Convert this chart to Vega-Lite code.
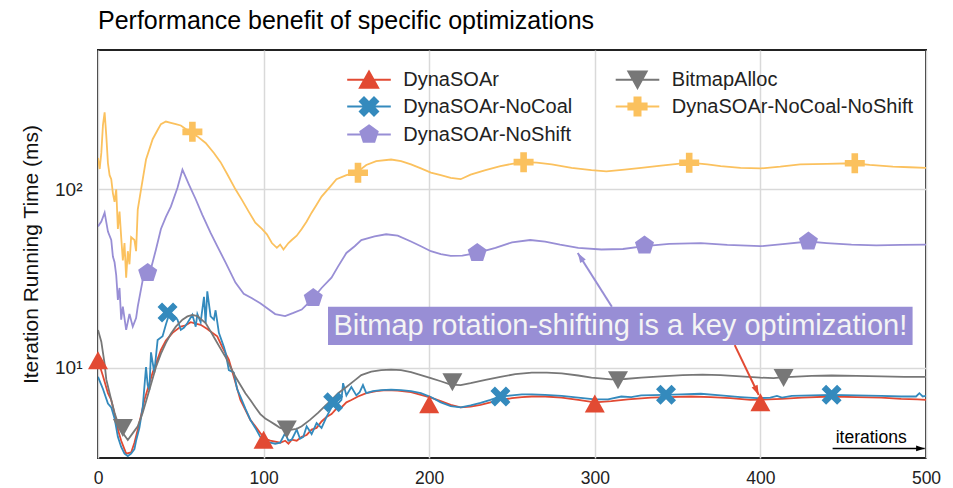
{
  "$schema": "https://vega.github.io/schema/vega-lite/v6.json",
  "width": 828,
  "height": 408,
  "autosize": {"type": "none"},
  "padding": {"left": 98, "top": 50, "right": 27, "bottom": 30},
  "background": "white",
  "title": {"text": "Performance benefit of specific optimizations", "anchor": "start", "frame": "group", "fontSize": 25, "fontWeight": "normal", "font": "Liberation Sans", "color": "#000", "offset": 16},
  "config": {
    "font": "Liberation Sans",
    "view": {"stroke": "#222", "strokeWidth": 2},
    "axis": {"labelFont": "Liberation Sans", "titleFont": "Liberation Sans", "labelColor": "#222", "titleColor": "#111", "domain": false, "ticks": false, "gridColor": "#d9d9d9", "gridWidth": 1.5}
  },
  "datasets": {
    "lines": [
      {"series":"DynaSOAr","x":0,"y":11.0},{"series":"DynaSOAr","x":3,"y":9.0},{"series":"DynaSOAr","x":6,"y":7.2},{"series":"DynaSOAr","x":8,"y":6.6},{"series":"DynaSOAr","x":10,"y":5.5},{"series":"DynaSOAr","x":12,"y":4.5},{"series":"DynaSOAr","x":14,"y":3.9},{"series":"DynaSOAr","x":17,"y":3.3},{"series":"DynaSOAr","x":20,"y":3.35},{"series":"DynaSOAr","x":22,"y":3.8},{"series":"DynaSOAr","x":24,"y":4.5},{"series":"DynaSOAr","x":26,"y":5.4},{"series":"DynaSOAr","x":28,"y":6.6},{"series":"DynaSOAr","x":30,"y":7.6},{"series":"DynaSOAr","x":33,"y":9.4},{"series":"DynaSOAr","x":36,"y":11.2},{"series":"DynaSOAr","x":38,"y":12.6},{"series":"DynaSOAr","x":41,"y":14.2},{"series":"DynaSOAr","x":45,"y":15.7},{"series":"DynaSOAr","x":50,"y":17.0},{"series":"DynaSOAr","x":53,"y":17.3},{"series":"DynaSOAr","x":56,"y":18.0},{"series":"DynaSOAr","x":59,"y":17.7},{"series":"DynaSOAr","x":62,"y":17.4},{"series":"DynaSOAr","x":66,"y":16.5},{"series":"DynaSOAr","x":69,"y":15.7},{"series":"DynaSOAr","x":72,"y":15.0},{"series":"DynaSOAr","x":75,"y":13.1},{"series":"DynaSOAr","x":79,"y":11.1},{"series":"DynaSOAr","x":82,"y":8.9},{"series":"DynaSOAr","x":86,"y":6.6},{"series":"DynaSOAr","x":89,"y":5.8},{"series":"DynaSOAr","x":92,"y":5.1},{"series":"DynaSOAr","x":95,"y":4.7},{"series":"DynaSOAr","x":98,"y":4.3},{"series":"DynaSOAr","x":101,"y":4.0},{"series":"DynaSOAr","x":104,"y":3.9},{"series":"DynaSOAr","x":107,"y":3.85},{"series":"DynaSOAr","x":110,"y":3.8},{"series":"DynaSOAr","x":113,"y":3.9},{"series":"DynaSOAr","x":115,"y":3.75},{"series":"DynaSOAr","x":117,"y":3.95},{"series":"DynaSOAr","x":120,"y":3.9},{"series":"DynaSOAr","x":123,"y":4.1},{"series":"DynaSOAr","x":126,"y":4.2},{"series":"DynaSOAr","x":129,"y":4.5},{"series":"DynaSOAr","x":132,"y":4.6},{"series":"DynaSOAr","x":135,"y":5.0},{"series":"DynaSOAr","x":138,"y":5.3},{"series":"DynaSOAr","x":141,"y":5.5},{"series":"DynaSOAr","x":144,"y":5.9},{"series":"DynaSOAr","x":147,"y":6.0},{"series":"DynaSOAr","x":150,"y":6.4},{"series":"DynaSOAr","x":153,"y":6.6},{"series":"DynaSOAr","x":157,"y":6.9},{"series":"DynaSOAr","x":162,"y":7.2},{"series":"DynaSOAr","x":168,"y":7.4},{"series":"DynaSOAr","x":174,"y":7.5},{"series":"DynaSOAr","x":181,"y":7.45},{"series":"DynaSOAr","x":189,"y":7.3},{"series":"DynaSOAr","x":195,"y":7.05},{"series":"DynaSOAr","x":201,"y":6.8},{"series":"DynaSOAr","x":207,"y":6.5},{"series":"DynaSOAr","x":213,"y":6.2},{"series":"DynaSOAr","x":219,"y":6.0},{"series":"DynaSOAr","x":225,"y":6.05},{"series":"DynaSOAr","x":231,"y":6.2},{"series":"DynaSOAr","x":237,"y":6.4},{"series":"DynaSOAr","x":243,"y":6.6},{"series":"DynaSOAr","x":250,"y":6.75},{"series":"DynaSOAr","x":256,"y":6.85},{"series":"DynaSOAr","x":262,"y":6.9},{"series":"DynaSOAr","x":270,"y":6.9},{"series":"DynaSOAr","x":280,"y":6.8},{"series":"DynaSOAr","x":290,"y":6.6},{"series":"DynaSOAr","x":300,"y":6.4},{"series":"DynaSOAr","x":310,"y":6.5},{"series":"DynaSOAr","x":320,"y":6.65},{"series":"DynaSOAr","x":334,"y":6.8},{"series":"DynaSOAr","x":345,"y":6.85},{"series":"DynaSOAr","x":358,"y":6.9},{"series":"DynaSOAr","x":370,"y":6.85},{"series":"DynaSOAr","x":382,"y":6.75},{"series":"DynaSOAr","x":394,"y":6.6},{"series":"DynaSOAr","x":405,"y":6.65},{"series":"DynaSOAr","x":413,"y":6.7},{"series":"DynaSOAr","x":425,"y":6.8},{"series":"DynaSOAr","x":443,"y":6.9},{"series":"DynaSOAr","x":458,"y":6.85},{"series":"DynaSOAr","x":473,"y":6.8},{"series":"DynaSOAr","x":485,"y":6.7},{"series":"DynaSOAr","x":495,"y":6.65},{"series":"DynaSOAr","x":500,"y":6.6},

      {"series":"DynaSOAr-NoCoal","x":0,"y":8.9},{"series":"DynaSOAr-NoCoal","x":3,"y":7.6},{"series":"DynaSOAr-NoCoal","x":6,"y":6.3},{"series":"DynaSOAr-NoCoal","x":8,"y":6.0},{"series":"DynaSOAr-NoCoal","x":10,"y":5.2},{"series":"DynaSOAr-NoCoal","x":12,"y":4.1},{"series":"DynaSOAr-NoCoal","x":14,"y":3.6},{"series":"DynaSOAr-NoCoal","x":16,"y":3.3},{"series":"DynaSOAr-NoCoal","x":18,"y":3.2},{"series":"DynaSOAr-NoCoal","x":20,"y":3.3},{"series":"DynaSOAr-NoCoal","x":22,"y":3.5},{"series":"DynaSOAr-NoCoal","x":23,"y":3.9},{"series":"DynaSOAr-NoCoal","x":25,"y":4.6},{"series":"DynaSOAr-NoCoal","x":27,"y":6.0},{"series":"DynaSOAr-NoCoal","x":29,"y":10.1},{"series":"DynaSOAr-NoCoal","x":30,"y":8.0},{"series":"DynaSOAr-NoCoal","x":31,"y":7.5},{"series":"DynaSOAr-NoCoal","x":32,"y":12.2},{"series":"DynaSOAr-NoCoal","x":34,"y":9.4},{"series":"DynaSOAr-NoCoal","x":36,"y":14.3},{"series":"DynaSOAr-NoCoal","x":39,"y":15.0},{"series":"DynaSOAr-NoCoal","x":41,"y":17.5},{"series":"DynaSOAr-NoCoal","x":43,"y":20.0},{"series":"DynaSOAr-NoCoal","x":46,"y":19.5},{"series":"DynaSOAr-NoCoal","x":48,"y":18.6},{"series":"DynaSOAr-NoCoal","x":50,"y":16.3},{"series":"DynaSOAr-NoCoal","x":52,"y":16.8},{"series":"DynaSOAr-NoCoal","x":54,"y":17.8},{"series":"DynaSOAr-NoCoal","x":57,"y":19.8},{"series":"DynaSOAr-NoCoal","x":59,"y":17.0},{"series":"DynaSOAr-NoCoal","x":60,"y":20.0},{"series":"DynaSOAr-NoCoal","x":62,"y":18.0},{"series":"DynaSOAr-NoCoal","x":64,"y":25.0},{"series":"DynaSOAr-NoCoal","x":65,"y":17.8},{"series":"DynaSOAr-NoCoal","x":66,"y":26.8},{"series":"DynaSOAr-NoCoal","x":68,"y":19.4},{"series":"DynaSOAr-NoCoal","x":70,"y":18.6},{"series":"DynaSOAr-NoCoal","x":71,"y":21.0},{"series":"DynaSOAr-NoCoal","x":73,"y":15.7},{"series":"DynaSOAr-NoCoal","x":76,"y":13.1},{"series":"DynaSOAr-NoCoal","x":77,"y":12.2},{"series":"DynaSOAr-NoCoal","x":79,"y":9.7},{"series":"DynaSOAr-NoCoal","x":82,"y":9.4},{"series":"DynaSOAr-NoCoal","x":84,"y":7.6},{"series":"DynaSOAr-NoCoal","x":86,"y":6.9},{"series":"DynaSOAr-NoCoal","x":89,"y":5.9},{"series":"DynaSOAr-NoCoal","x":92,"y":5.1},{"series":"DynaSOAr-NoCoal","x":95,"y":4.6},{"series":"DynaSOAr-NoCoal","x":98,"y":4.1},{"series":"DynaSOAr-NoCoal","x":101,"y":3.9},{"series":"DynaSOAr-NoCoal","x":104,"y":3.8},{"series":"DynaSOAr-NoCoal","x":107,"y":3.75},{"series":"DynaSOAr-NoCoal","x":110,"y":3.8},{"series":"DynaSOAr-NoCoal","x":113,"y":4.3},{"series":"DynaSOAr-NoCoal","x":115,"y":3.9},{"series":"DynaSOAr-NoCoal","x":117,"y":3.95},{"series":"DynaSOAr-NoCoal","x":120,"y":4.5},{"series":"DynaSOAr-NoCoal","x":122,"y":4.0},{"series":"DynaSOAr-NoCoal","x":124,"y":4.1},{"series":"DynaSOAr-NoCoal","x":126,"y":4.7},{"series":"DynaSOAr-NoCoal","x":129,"y":4.25},{"series":"DynaSOAr-NoCoal","x":132,"y":4.9},{"series":"DynaSOAr-NoCoal","x":135,"y":4.6},{"series":"DynaSOAr-NoCoal","x":138,"y":5.3},{"series":"DynaSOAr-NoCoal","x":141,"y":6.0},{"series":"DynaSOAr-NoCoal","x":143,"y":6.2},{"series":"DynaSOAr-NoCoal","x":145,"y":6.3},{"series":"DynaSOAr-NoCoal","x":147,"y":6.6},{"series":"DynaSOAr-NoCoal","x":148,"y":8.2},{"series":"DynaSOAr-NoCoal","x":150,"y":7.0},{"series":"DynaSOAr-NoCoal","x":153,"y":7.8},{"series":"DynaSOAr-NoCoal","x":156,"y":7.0},{"series":"DynaSOAr-NoCoal","x":158,"y":7.3},{"series":"DynaSOAr-NoCoal","x":160,"y":8.0},{"series":"DynaSOAr-NoCoal","x":162,"y":7.2},{"series":"DynaSOAr-NoCoal","x":166,"y":7.4},{"series":"DynaSOAr-NoCoal","x":171,"y":7.5},{"series":"DynaSOAr-NoCoal","x":177,"y":7.55},{"series":"DynaSOAr-NoCoal","x":183,"y":7.5},{"series":"DynaSOAr-NoCoal","x":189,"y":7.4},{"series":"DynaSOAr-NoCoal","x":195,"y":7.2},{"series":"DynaSOAr-NoCoal","x":201,"y":6.85},{"series":"DynaSOAr-NoCoal","x":207,"y":6.4},{"series":"DynaSOAr-NoCoal","x":213,"y":6.1},{"series":"DynaSOAr-NoCoal","x":219,"y":6.0},{"series":"DynaSOAr-NoCoal","x":225,"y":6.15},{"series":"DynaSOAr-NoCoal","x":231,"y":6.35},{"series":"DynaSOAr-NoCoal","x":237,"y":6.6},{"series":"DynaSOAr-NoCoal","x":243,"y":6.9},{"series":"DynaSOAr-NoCoal","x":250,"y":7.0},{"series":"DynaSOAr-NoCoal","x":256,"y":7.1},{"series":"DynaSOAr-NoCoal","x":262,"y":7.1},{"series":"DynaSOAr-NoCoal","x":270,"y":7.05},{"series":"DynaSOAr-NoCoal","x":280,"y":6.95},{"series":"DynaSOAr-NoCoal","x":290,"y":6.8},{"series":"DynaSOAr-NoCoal","x":300,"y":6.65},{"series":"DynaSOAr-NoCoal","x":308,"y":6.65},{"series":"DynaSOAr-NoCoal","x":316,"y":6.9},{"series":"DynaSOAr-NoCoal","x":322,"y":6.85},{"series":"DynaSOAr-NoCoal","x":328,"y":7.0},{"series":"DynaSOAr-NoCoal","x":342,"y":7.05},{"series":"DynaSOAr-NoCoal","x":352,"y":7.1},{"series":"DynaSOAr-NoCoal","x":364,"y":7.15},{"series":"DynaSOAr-NoCoal","x":376,"y":7.0},{"series":"DynaSOAr-NoCoal","x":388,"y":6.85},{"series":"DynaSOAr-NoCoal","x":398,"y":6.75},{"series":"DynaSOAr-NoCoal","x":406,"y":6.8},{"series":"DynaSOAr-NoCoal","x":410,"y":6.95},{"series":"DynaSOAr-NoCoal","x":413,"y":6.8},{"series":"DynaSOAr-NoCoal","x":419,"y":6.95},{"series":"DynaSOAr-NoCoal","x":431,"y":7.0},{"series":"DynaSOAr-NoCoal","x":443,"y":7.05},{"series":"DynaSOAr-NoCoal","x":458,"y":7.0},{"series":"DynaSOAr-NoCoal","x":473,"y":6.95},{"series":"DynaSOAr-NoCoal","x":485,"y":6.9},{"series":"DynaSOAr-NoCoal","x":494,"y":6.9},{"series":"DynaSOAr-NoCoal","x":496,"y":7.2},{"series":"DynaSOAr-NoCoal","x":498,"y":6.9},{"series":"DynaSOAr-NoCoal","x":500,"y":6.95},

      {"series":"DynaSOAr-NoShift","x":0,"y":62},{"series":"DynaSOAr-NoShift","x":2,"y":66},{"series":"DynaSOAr-NoShift","x":4,"y":74},{"series":"DynaSOAr-NoShift","x":6,"y":58},{"series":"DynaSOAr-NoShift","x":8,"y":52},{"series":"DynaSOAr-NoShift","x":9,"y":42},{"series":"DynaSOAr-NoShift","x":10,"y":39},{"series":"DynaSOAr-NoShift","x":11,"y":33},{"series":"DynaSOAr-NoShift","x":12,"y":24},{"series":"DynaSOAr-NoShift","x":13,"y":28},{"series":"DynaSOAr-NoShift","x":14,"y":18.6},{"series":"DynaSOAr-NoShift","x":15,"y":22},{"series":"DynaSOAr-NoShift","x":17,"y":16.3},{"series":"DynaSOAr-NoShift","x":19,"y":20},{"series":"DynaSOAr-NoShift","x":21,"y":17},{"series":"DynaSOAr-NoShift","x":23,"y":19},{"series":"DynaSOAr-NoShift","x":24,"y":22},{"series":"DynaSOAr-NoShift","x":27,"y":31},{"series":"DynaSOAr-NoShift","x":30,"y":34},{"series":"DynaSOAr-NoShift","x":32,"y":36},{"series":"DynaSOAr-NoShift","x":35,"y":46},{"series":"DynaSOAr-NoShift","x":38,"y":60},{"series":"DynaSOAr-NoShift","x":41,"y":70},{"series":"DynaSOAr-NoShift","x":44,"y":80},{"series":"DynaSOAr-NoShift","x":48,"y":102},{"series":"DynaSOAr-NoShift","x":51,"y":129},{"series":"DynaSOAr-NoShift","x":55,"y":106},{"series":"DynaSOAr-NoShift","x":59,"y":88},{"series":"DynaSOAr-NoShift","x":63,"y":72},{"series":"DynaSOAr-NoShift","x":68,"y":57},{"series":"DynaSOAr-NoShift","x":72,"y":48},{"series":"DynaSOAr-NoShift","x":77,"y":39},{"series":"DynaSOAr-NoShift","x":83,"y":30},{"series":"DynaSOAr-NoShift","x":88,"y":26},{"series":"DynaSOAr-NoShift","x":93,"y":24.5},{"series":"DynaSOAr-NoShift","x":98,"y":23},{"series":"DynaSOAr-NoShift","x":103,"y":21.3},{"series":"DynaSOAr-NoShift","x":107,"y":20},{"series":"DynaSOAr-NoShift","x":113,"y":19.5},{"series":"DynaSOAr-NoShift","x":118,"y":20.3},{"series":"DynaSOAr-NoShift","x":123,"y":21.2},{"series":"DynaSOAr-NoShift","x":127,"y":23},{"series":"DynaSOAr-NoShift","x":130,"y":24.6},{"series":"DynaSOAr-NoShift","x":135,"y":28},{"series":"DynaSOAr-NoShift","x":141,"y":32},{"series":"DynaSOAr-NoShift","x":145,"y":37},{"series":"DynaSOAr-NoShift","x":150,"y":44},{"series":"DynaSOAr-NoShift","x":155,"y":48},{"series":"DynaSOAr-NoShift","x":159,"y":52},{"series":"DynaSOAr-NoShift","x":167,"y":54.5},{"series":"DynaSOAr-NoShift","x":174,"y":56},{"series":"DynaSOAr-NoShift","x":181,"y":55},{"series":"DynaSOAr-NoShift","x":189,"y":51},{"series":"DynaSOAr-NoShift","x":195,"y":48},{"series":"DynaSOAr-NoShift","x":201,"y":45},{"series":"DynaSOAr-NoShift","x":207,"y":43.3},{"series":"DynaSOAr-NoShift","x":213,"y":42.4},{"series":"DynaSOAr-NoShift","x":220,"y":42.5},{"series":"DynaSOAr-NoShift","x":229,"y":44},{"series":"DynaSOAr-NoShift","x":240,"y":47},{"series":"DynaSOAr-NoShift","x":250,"y":50.5},{"series":"DynaSOAr-NoShift","x":261,"y":52},{"series":"DynaSOAr-NoShift","x":270,"y":51},{"series":"DynaSOAr-NoShift","x":279,"y":49},{"series":"DynaSOAr-NoShift","x":290,"y":47},{"series":"DynaSOAr-NoShift","x":304,"y":46},{"series":"DynaSOAr-NoShift","x":317,"y":46.3},{"series":"DynaSOAr-NoShift","x":330,"y":48},{"series":"DynaSOAr-NoShift","x":345,"y":49.5},{"series":"DynaSOAr-NoShift","x":364,"y":50},{"series":"DynaSOAr-NoShift","x":380,"y":48.8},{"series":"DynaSOAr-NoShift","x":400,"y":48},{"series":"DynaSOAr-NoShift","x":415,"y":49.5},{"series":"DynaSOAr-NoShift","x":429,"y":51},{"series":"DynaSOAr-NoShift","x":440,"y":50},{"series":"DynaSOAr-NoShift","x":455,"y":49},{"series":"DynaSOAr-NoShift","x":470,"y":48.5},{"series":"DynaSOAr-NoShift","x":485,"y":48.8},{"series":"DynaSOAr-NoShift","x":500,"y":49},

      {"series":"BitmapAlloc","x":0,"y":16.3},{"series":"BitmapAlloc","x":2,"y":14.0},{"series":"BitmapAlloc","x":4,"y":10.5},{"series":"BitmapAlloc","x":5,"y":8.6},{"series":"BitmapAlloc","x":8,"y":6.6},{"series":"BitmapAlloc","x":10,"y":5.6},{"series":"BitmapAlloc","x":12,"y":4.9},{"series":"BitmapAlloc","x":15,"y":4.3},{"series":"BitmapAlloc","x":18,"y":3.94},{"series":"BitmapAlloc","x":21,"y":4.3},{"series":"BitmapAlloc","x":24,"y":4.7},{"series":"BitmapAlloc","x":27,"y":5.6},{"series":"BitmapAlloc","x":31,"y":7.5},{"series":"BitmapAlloc","x":35,"y":10.1},{"series":"BitmapAlloc","x":38,"y":12.0},{"series":"BitmapAlloc","x":41,"y":13.8},{"series":"BitmapAlloc","x":44,"y":15.5},{"series":"BitmapAlloc","x":47,"y":17.0},{"series":"BitmapAlloc","x":51,"y":18.6},{"series":"BitmapAlloc","x":54,"y":19.4},{"series":"BitmapAlloc","x":57,"y":19.8},{"series":"BitmapAlloc","x":60,"y":19.5},{"series":"BitmapAlloc","x":65,"y":17.8},{"series":"BitmapAlloc","x":68,"y":16.0},{"series":"BitmapAlloc","x":71,"y":14.3},{"series":"BitmapAlloc","x":74,"y":12.8},{"series":"BitmapAlloc","x":77,"y":11.5},{"series":"BitmapAlloc","x":80,"y":10.1},{"series":"BitmapAlloc","x":83,"y":8.9},{"series":"BitmapAlloc","x":86,"y":8.0},{"series":"BitmapAlloc","x":89,"y":7.2},{"series":"BitmapAlloc","x":92,"y":6.6},{"series":"BitmapAlloc","x":95,"y":6.0},{"series":"BitmapAlloc","x":98,"y":5.5},{"series":"BitmapAlloc","x":101,"y":5.2},{"series":"BitmapAlloc","x":104,"y":5.0},{"series":"BitmapAlloc","x":107,"y":4.8},{"series":"BitmapAlloc","x":110,"y":4.6},{"series":"BitmapAlloc","x":114,"y":4.5},{"series":"BitmapAlloc","x":117,"y":4.5},{"series":"BitmapAlloc","x":120,"y":4.55},{"series":"BitmapAlloc","x":123,"y":4.7},{"series":"BitmapAlloc","x":128,"y":5.1},{"series":"BitmapAlloc","x":133,"y":5.6},{"series":"BitmapAlloc","x":137,"y":6.1},{"series":"BitmapAlloc","x":141,"y":6.6},{"series":"BitmapAlloc","x":145,"y":7.2},{"series":"BitmapAlloc","x":150,"y":7.8},{"series":"BitmapAlloc","x":155,"y":8.5},{"series":"BitmapAlloc","x":159,"y":9.1},{"series":"BitmapAlloc","x":165,"y":9.5},{"series":"BitmapAlloc","x":171,"y":9.7},{"series":"BitmapAlloc","x":177,"y":9.75},{"series":"BitmapAlloc","x":183,"y":9.7},{"series":"BitmapAlloc","x":189,"y":9.45},{"series":"BitmapAlloc","x":195,"y":9.1},{"series":"BitmapAlloc","x":201,"y":8.75},{"series":"BitmapAlloc","x":207,"y":8.4},{"series":"BitmapAlloc","x":213,"y":8.05},{"series":"BitmapAlloc","x":219,"y":8.0},{"series":"BitmapAlloc","x":225,"y":8.2},{"series":"BitmapAlloc","x":234,"y":8.55},{"series":"BitmapAlloc","x":243,"y":8.9},{"series":"BitmapAlloc","x":252,"y":9.2},{"series":"BitmapAlloc","x":262,"y":9.4},{"series":"BitmapAlloc","x":271,"y":9.4},{"series":"BitmapAlloc","x":280,"y":9.3},{"series":"BitmapAlloc","x":290,"y":9.05},{"series":"BitmapAlloc","x":298,"y":8.8},{"series":"BitmapAlloc","x":310,"y":8.6},{"series":"BitmapAlloc","x":318,"y":8.65},{"series":"BitmapAlloc","x":328,"y":8.8},{"series":"BitmapAlloc","x":340,"y":8.95},{"series":"BitmapAlloc","x":353,"y":9.1},{"series":"BitmapAlloc","x":365,"y":9.15},{"series":"BitmapAlloc","x":376,"y":9.1},{"series":"BitmapAlloc","x":388,"y":8.95},{"series":"BitmapAlloc","x":400,"y":8.8},{"series":"BitmapAlloc","x":408,"y":8.75},{"series":"BitmapAlloc","x":414,"y":8.85},{"series":"BitmapAlloc","x":419,"y":8.9},{"series":"BitmapAlloc","x":431,"y":9.0},{"series":"BitmapAlloc","x":443,"y":9.05},{"series":"BitmapAlloc","x":458,"y":9.0},{"series":"BitmapAlloc","x":473,"y":8.95},{"series":"BitmapAlloc","x":487,"y":8.9},{"series":"BitmapAlloc","x":500,"y":8.9},

      {"series":"DynaSOAr-NoCoal-NoShift","x":0,"y":150},{"series":"DynaSOAr-NoCoal-NoShift","x":1,"y":130},{"series":"DynaSOAr-NoCoal-NoShift","x":2,"y":160},{"series":"DynaSOAr-NoCoal-NoShift","x":3,"y":230},{"series":"DynaSOAr-NoCoal-NoShift","x":4,"y":270},{"series":"DynaSOAr-NoCoal-NoShift","x":5,"y":200},{"series":"DynaSOAr-NoCoal-NoShift","x":6,"y":140},{"series":"DynaSOAr-NoCoal-NoShift","x":7,"y":120},{"series":"DynaSOAr-NoCoal-NoShift","x":8,"y":114},{"series":"DynaSOAr-NoCoal-NoShift","x":9,"y":95},{"series":"DynaSOAr-NoCoal-NoShift","x":10,"y":85},{"series":"DynaSOAr-NoCoal-NoShift","x":11,"y":100},{"series":"DynaSOAr-NoCoal-NoShift","x":12,"y":60},{"series":"DynaSOAr-NoCoal-NoShift","x":13,"y":75},{"series":"DynaSOAr-NoCoal-NoShift","x":14,"y":54},{"series":"DynaSOAr-NoCoal-NoShift","x":15,"y":40},{"series":"DynaSOAr-NoCoal-NoShift","x":16,"y":50},{"series":"DynaSOAr-NoCoal-NoShift","x":17,"y":32},{"series":"DynaSOAr-NoCoal-NoShift","x":18,"y":45},{"series":"DynaSOAr-NoCoal-NoShift","x":19,"y":38},{"series":"DynaSOAr-NoCoal-NoShift","x":20,"y":54},{"series":"DynaSOAr-NoCoal-NoShift","x":22,"y":52},{"series":"DynaSOAr-NoCoal-NoShift","x":23,"y":45},{"series":"DynaSOAr-NoCoal-NoShift","x":24,"y":77},{"series":"DynaSOAr-NoCoal-NoShift","x":26,"y":100},{"series":"DynaSOAr-NoCoal-NoShift","x":29,"y":147},{"series":"DynaSOAr-NoCoal-NoShift","x":33,"y":191},{"series":"DynaSOAr-NoCoal-NoShift","x":36,"y":215},{"series":"DynaSOAr-NoCoal-NoShift","x":38,"y":232},{"series":"DynaSOAr-NoCoal-NoShift","x":41,"y":240},{"series":"DynaSOAr-NoCoal-NoShift","x":44,"y":236},{"series":"DynaSOAr-NoCoal-NoShift","x":47,"y":232},{"series":"DynaSOAr-NoCoal-NoShift","x":50,"y":228},{"series":"DynaSOAr-NoCoal-NoShift","x":53,"y":218},{"series":"DynaSOAr-NoCoal-NoShift","x":56,"y":209},{"series":"DynaSOAr-NoCoal-NoShift","x":60,"y":198},{"series":"DynaSOAr-NoCoal-NoShift","x":65,"y":182},{"series":"DynaSOAr-NoCoal-NoShift","x":70,"y":160},{"series":"DynaSOAr-NoCoal-NoShift","x":74,"y":142},{"series":"DynaSOAr-NoCoal-NoShift","x":78,"y":122},{"series":"DynaSOAr-NoCoal-NoShift","x":83,"y":100},{"series":"DynaSOAr-NoCoal-NoShift","x":87,"y":87},{"series":"DynaSOAr-NoCoal-NoShift","x":91,"y":75},{"series":"DynaSOAr-NoCoal-NoShift","x":95,"y":65},{"series":"DynaSOAr-NoCoal-NoShift","x":99,"y":60},{"series":"DynaSOAr-NoCoal-NoShift","x":102,"y":56},{"series":"DynaSOAr-NoCoal-NoShift","x":105,"y":50},{"series":"DynaSOAr-NoCoal-NoShift","x":108,"y":47},{"series":"DynaSOAr-NoCoal-NoShift","x":110,"y":49},{"series":"DynaSOAr-NoCoal-NoShift","x":112,"y":46},{"series":"DynaSOAr-NoCoal-NoShift","x":115,"y":50},{"series":"DynaSOAr-NoCoal-NoShift","x":117,"y":52},{"series":"DynaSOAr-NoCoal-NoShift","x":120,"y":55},{"series":"DynaSOAr-NoCoal-NoShift","x":123,"y":60},{"series":"DynaSOAr-NoCoal-NoShift","x":126,"y":66},{"series":"DynaSOAr-NoCoal-NoShift","x":129,"y":74},{"series":"DynaSOAr-NoCoal-NoShift","x":132,"y":82},{"series":"DynaSOAr-NoCoal-NoShift","x":135,"y":91},{"series":"DynaSOAr-NoCoal-NoShift","x":140,"y":103},{"series":"DynaSOAr-NoCoal-NoShift","x":144,"y":114},{"series":"DynaSOAr-NoCoal-NoShift","x":150,"y":120},{"series":"DynaSOAr-NoCoal-NoShift","x":156,"y":124},{"series":"DynaSOAr-NoCoal-NoShift","x":162,"y":137},{"series":"DynaSOAr-NoCoal-NoShift","x":168,"y":144},{"series":"DynaSOAr-NoCoal-NoShift","x":177,"y":147},{"series":"DynaSOAr-NoCoal-NoShift","x":183,"y":144},{"series":"DynaSOAr-NoCoal-NoShift","x":189,"y":138},{"series":"DynaSOAr-NoCoal-NoShift","x":195,"y":131},{"series":"DynaSOAr-NoCoal-NoShift","x":201,"y":124},{"series":"DynaSOAr-NoCoal-NoShift","x":207,"y":120},{"series":"DynaSOAr-NoCoal-NoShift","x":213,"y":116},{"series":"DynaSOAr-NoCoal-NoShift","x":219,"y":114},{"series":"DynaSOAr-NoCoal-NoShift","x":225,"y":121},{"series":"DynaSOAr-NoCoal-NoShift","x":234,"y":128},{"series":"DynaSOAr-NoCoal-NoShift","x":243,"y":135},{"series":"DynaSOAr-NoCoal-NoShift","x":250,"y":139},{"series":"DynaSOAr-NoCoal-NoShift","x":257,"y":142},{"series":"DynaSOAr-NoCoal-NoShift","x":265,"y":141},{"series":"DynaSOAr-NoCoal-NoShift","x":274,"y":138},{"series":"DynaSOAr-NoCoal-NoShift","x":286,"y":132},{"series":"DynaSOAr-NoCoal-NoShift","x":298,"y":128},{"series":"DynaSOAr-NoCoal-NoShift","x":307,"y":126},{"series":"DynaSOAr-NoCoal-NoShift","x":318,"y":129},{"series":"DynaSOAr-NoCoal-NoShift","x":328,"y":132},{"series":"DynaSOAr-NoCoal-NoShift","x":340,"y":136},{"series":"DynaSOAr-NoCoal-NoShift","x":357,"y":141},{"series":"DynaSOAr-NoCoal-NoShift","x":368,"y":138},{"series":"DynaSOAr-NoCoal-NoShift","x":376,"y":135},{"series":"DynaSOAr-NoCoal-NoShift","x":388,"y":132},{"series":"DynaSOAr-NoCoal-NoShift","x":400,"y":131},{"series":"DynaSOAr-NoCoal-NoShift","x":412,"y":134},{"series":"DynaSOAr-NoCoal-NoShift","x":424,"y":138},{"series":"DynaSOAr-NoCoal-NoShift","x":440,"y":139},{"series":"DynaSOAr-NoCoal-NoShift","x":456,"y":140},{"series":"DynaSOAr-NoCoal-NoShift","x":466,"y":137},{"series":"DynaSOAr-NoCoal-NoShift","x":480,"y":134},{"series":"DynaSOAr-NoCoal-NoShift","x":490,"y":133},{"series":"DynaSOAr-NoCoal-NoShift","x":500,"y":132}
    ],
    "markers": [
      {"series":"DynaSOAr","x":0,"y":11.0},{"series":"DynaSOAr","x":100,"y":3.95},{"series":"DynaSOAr","x":200,"y":6.25},{"series":"DynaSOAr","x":300,"y":6.3},{"series":"DynaSOAr","x":400,"y":6.4},
      {"series":"DynaSOAr-NoCoal","x":42,"y":20.4},{"series":"DynaSOAr-NoCoal","x":142,"y":6.4},{"series":"DynaSOAr-NoCoal","x":243,"y":6.9},{"series":"DynaSOAr-NoCoal","x":343,"y":7.05},{"series":"DynaSOAr-NoCoal","x":443,"y":7.05},
      {"series":"DynaSOAr-NoShift","x":30,"y":34},{"series":"DynaSOAr-NoShift","x":130,"y":24.6},{"series":"DynaSOAr-NoShift","x":229,"y":44},{"series":"DynaSOAr-NoShift","x":330,"y":48.5},{"series":"DynaSOAr-NoShift","x":429,"y":51},
      {"series":"BitmapAlloc","x":15,"y":4.6},{"series":"BitmapAlloc","x":114,"y":4.5},{"series":"BitmapAlloc","x":214,"y":8.3},{"series":"BitmapAlloc","x":314,"y":8.5},{"series":"BitmapAlloc","x":414,"y":8.75},
      {"series":"DynaSOAr-NoCoal-NoShift","x":57,"y":210},{"series":"DynaSOAr-NoCoal-NoShift","x":157,"y":124},{"series":"DynaSOAr-NoCoal-NoShift","x":257,"y":142},{"series":"DynaSOAr-NoCoal-NoShift","x":357,"y":141},{"series":"DynaSOAr-NoCoal-NoShift","x":457,"y":140}
    ],
    "callout": [{"label":"Bitmap rotation-shifting is a key optimization!","x0":138.9,"x1":491.9,"y0":13.4,"y1":22.0,"xm":315.4,"ym":17.1}],
    "arrows": [
      {"series":"DynaSOAr-NoShift","x":310.3,"y":22.0,"x2":289.7,"y2":44.0},
      {"series":"DynaSOAr","x":384.5,"y":13.4,"x2":399.0,"y2":7.03}
    ],
    "iterations": [{"label":"iterations","x":443.6,"x2":499.2,"y":3.53,"xt":466.9,"yt":3.77}]
  },
  "encoding": {
    "x": {"type": "quantitative", "scale": {"domain": [0, 500], "nice": false, "zero": false}, "axis": {"values": [0,100,200,300,400,500], "title": null, "grid": true, "labelFontSize": 17.5, "labelPadding": 11, "labelFlush": false}},
    "y": {"type": "quantitative", "scale": {"type": "log", "domain": [3.12, 604], "nice": false}, "axis": {"values": [10, 100], "labelExpr": "datum.value == 10 ? '10¹' : '10²'", "title": "Iteration Running Time (ms)", "titleFontSize": 21, "titleFontWeight": "normal", "titlePadding": 13, "grid": true, "labelFontSize": 19, "labelPadding": 16}}
  },
  "layer": [
    {"data": {"name": "lines"}, "mark": {"type": "line", "strokeWidth": 1.8, "clip": true},
     "encoding": {"x": {"field": "x"}, "y": {"field": "y"},
       "color": {"field": "series", "type": "nominal", "legend": null, "scale": {"domain": ["BitmapAlloc","DynaSOAr","DynaSOAr-NoCoal","DynaSOAr-NoCoal-NoShift","DynaSOAr-NoShift"], "range": ["#777777","#E24A33","#348ABD","#FBC15E","#988ED5"]}}}},
    {"data": {"name": "markers"}, "transform": [{"filter": "datum.series == 'DynaSOAr'"}],
     "mark": {"type": "point", "filled": true, "opacity": 1, "size": 400, "shape": "M0,-0.9L1,0.9L-1,0.9Z"},
     "encoding": {"x": {"field": "x"}, "y": {"field": "y"}, "color": {"field": "series", "type": "nominal", "legend": null}}},
    {"data": {"name": "markers"}, "transform": [{"filter": "datum.series == 'DynaSOAr-NoCoal'"}],
     "mark": {"type": "point", "filled": true, "opacity": 1, "size": 400, "shape": "M-1,-0.55L-0.55,-1L0,-0.45L0.55,-1L1,-0.55L0.45,0L1,0.55L0.55,1L0,0.45L-0.55,1L-1,0.55L-0.45,0Z"},
     "encoding": {"x": {"field": "x"}, "y": {"field": "y"}, "color": {"field": "series", "type": "nominal", "legend": null}}},
    {"data": {"name": "markers"}, "transform": [{"filter": "datum.series == 'DynaSOAr-NoShift'"}],
     "mark": {"type": "point", "filled": true, "opacity": 1, "size": 400, "shape": "M0,-1L0.951,-0.309L0.588,0.809L-0.588,0.809L-0.951,-0.309Z"},
     "encoding": {"x": {"field": "x"}, "y": {"field": "y"}, "color": {"field": "series", "type": "nominal", "legend": null}}},
    {"data": {"name": "markers"}, "transform": [{"filter": "datum.series == 'BitmapAlloc'"}],
     "mark": {"type": "point", "filled": true, "opacity": 1, "size": 400, "shape": "M-1,-0.9L1,-0.9L0,0.9Z"},
     "encoding": {"x": {"field": "x"}, "y": {"field": "y"}, "color": {"field": "series", "type": "nominal", "legend": null}}},
    {"data": {"name": "markers"}, "transform": [{"filter": "datum.series == 'DynaSOAr-NoCoal-NoShift'"}],
     "mark": {"type": "point", "filled": true, "opacity": 1, "size": 400, "shape": "M-0.33,-1H0.33V-0.33H1V0.33H0.33V1H-0.33V0.33H-1V-0.33H-0.33Z"},
     "encoding": {"x": {"field": "x"}, "y": {"field": "y"}, "color": {"field": "series", "type": "nominal", "legend": null}}},
    {"data": {"name": "markers"},
     "mark": {"type": "point", "filled": true, "opacity": 0, "strokeWidth": 2},
     "encoding": {"x": {"field": "x"}, "y": {"field": "y"},
       "shape": {"field": "series", "type": "nominal",
         "scale": {"domain": ["DynaSOAr","DynaSOAr-NoCoal","DynaSOAr-NoShift","BitmapAlloc","DynaSOAr-NoCoal-NoShift"],
           "range": ["M-2.4,0H2.4M0,-0.9L1,0.9L-1,0.9Z", "M-2.4,0H2.4M-1,-0.55L-0.55,-1L0,-0.45L0.55,-1L1,-0.55L0.45,0L1,0.55L0.55,1L0,0.45L-0.55,1L-1,0.55L-0.45,0Z", "M-2.4,0H2.4M0,-1L0.951,-0.309L0.588,0.809L-0.588,0.809L-0.951,-0.309Z", "M-2.4,0H2.4M-1,-0.9L1,-0.9L0,0.9Z", "M-2.4,0H2.4M-0.33,-1H0.33V-0.33H1V0.33H0.33V1H-0.33V0.33H-1V-0.33H-0.33Z"]},
         "legend": {"title": null, "orient": "none", "legendX": 248.5, "legendY": 19, "columns": 2, "columnPadding": 38.5, "rowPadding": 1, "symbolSize": 330, "symbolOffset": 12, "labelOffset": 23.8, "labelFontSize": 20, "labelFont": "Liberation Sans", "labelColor": "#222", "symbolStrokeWidth": 2, "symbolOpacity": 1, "padding": 0, "labelLimit": 400}},
       "fill": {"field": "series", "type": "nominal", "scale": {"domain": ["DynaSOAr","DynaSOAr-NoCoal","DynaSOAr-NoShift","BitmapAlloc","DynaSOAr-NoCoal-NoShift"], "range": ["#E24A33","#348ABD","#988ED5","#777777","#FBC15E"]},
         "legend": {"title": null, "orient": "none", "legendX": 248.5, "legendY": 19, "columns": 2, "columnPadding": 38.5, "rowPadding": 1, "symbolSize": 330, "symbolOffset": 12, "labelOffset": 23.8, "labelFontSize": 20, "labelFont": "Liberation Sans", "labelColor": "#222", "symbolStrokeWidth": 2, "symbolOpacity": 1, "padding": 0, "labelLimit": 400}},
       "stroke": {"field": "series", "type": "nominal", "scale": {"domain": ["DynaSOAr","DynaSOAr-NoCoal","DynaSOAr-NoShift","BitmapAlloc","DynaSOAr-NoCoal-NoShift"], "range": ["#E24A33","#348ABD","#988ED5","#777777","#FBC15E"]},
         "legend": {"title": null, "orient": "none", "legendX": 248.5, "legendY": 19, "columns": 2, "columnPadding": 38.5, "rowPadding": 1, "symbolSize": 330, "symbolOffset": 12, "labelOffset": 23.8, "labelFontSize": 20, "labelFont": "Liberation Sans", "labelColor": "#222", "symbolStrokeWidth": 2, "symbolOpacity": 1, "padding": 0, "labelLimit": 400}}}},
    {"data": {"name": "arrows"}, "mark": {"type": "rule", "strokeWidth": 2},
     "encoding": {"x": {"field": "x"}, "y": {"field": "y"}, "x2": {"field": "x2"}, "y2": {"field": "y2"}, "color": {"field": "series", "type": "nominal", "legend": null}}},
    {"data": {"name": "arrows"}, "transform": [{"filter": "datum.series == 'DynaSOAr-NoShift'"}],
     "mark": {"type": "point", "filled": true, "opacity": 1, "size": 120, "shape": "M0,0L0.6,1.8L-0.6,1.8Z", "angle": 327.8},
     "encoding": {"x": {"field": "x2"}, "y": {"field": "y2"}, "color": {"field": "series", "type": "nominal", "legend": null}}},
    {"data": {"name": "arrows"}, "transform": [{"filter": "datum.series == 'DynaSOAr'"}],
     "mark": {"type": "point", "filled": true, "opacity": 1, "size": 120, "shape": "M0,0L0.6,1.8L-0.6,1.8Z", "angle": 155.3},
     "encoding": {"x": {"field": "x2"}, "y": {"field": "y2"}, "color": {"field": "series", "type": "nominal", "legend": null}}},
    {"data": {"name": "callout"}, "mark": {"type": "rect", "color": "#988ED5", "opacity": 1},
     "encoding": {"x": {"field": "x0"}, "x2": {"field": "x1"}, "y": {"field": "y0"}, "y2": {"field": "y1"}}},
    {"data": {"name": "callout"}, "mark": {"type": "text", "fontSize": 29, "color": "#f4f4f4", "align": "center", "baseline": "middle", "font": "Liberation Sans"},
     "encoding": {"x": {"field": "xm"}, "y": {"field": "ym"}, "text": {"field": "label"}}},
    {"data": {"name": "iterations"}, "mark": {"type": "rule", "strokeWidth": 1.5, "color": "#000"},
     "encoding": {"x": {"field": "x"}, "x2": {"field": "x2"}, "y": {"field": "y"}}},
    {"data": {"name": "iterations"}, "mark": {"type": "point", "filled": true, "opacity": 1, "size": 90, "shape": "M0,0L0.6,1.8L-0.6,1.8Z", "angle": 90, "color": "#000"},
     "encoding": {"x": {"field": "x2"}, "y": {"field": "y"}}},
    {"data": {"name": "iterations"}, "mark": {"type": "text", "fontSize": 17.5, "color": "#000", "align": "center", "baseline": "alphabetic", "font": "Liberation Sans"},
     "encoding": {"x": {"field": "xt"}, "y": {"field": "yt"}, "text": {"field": "label"}}}
  ]
}
